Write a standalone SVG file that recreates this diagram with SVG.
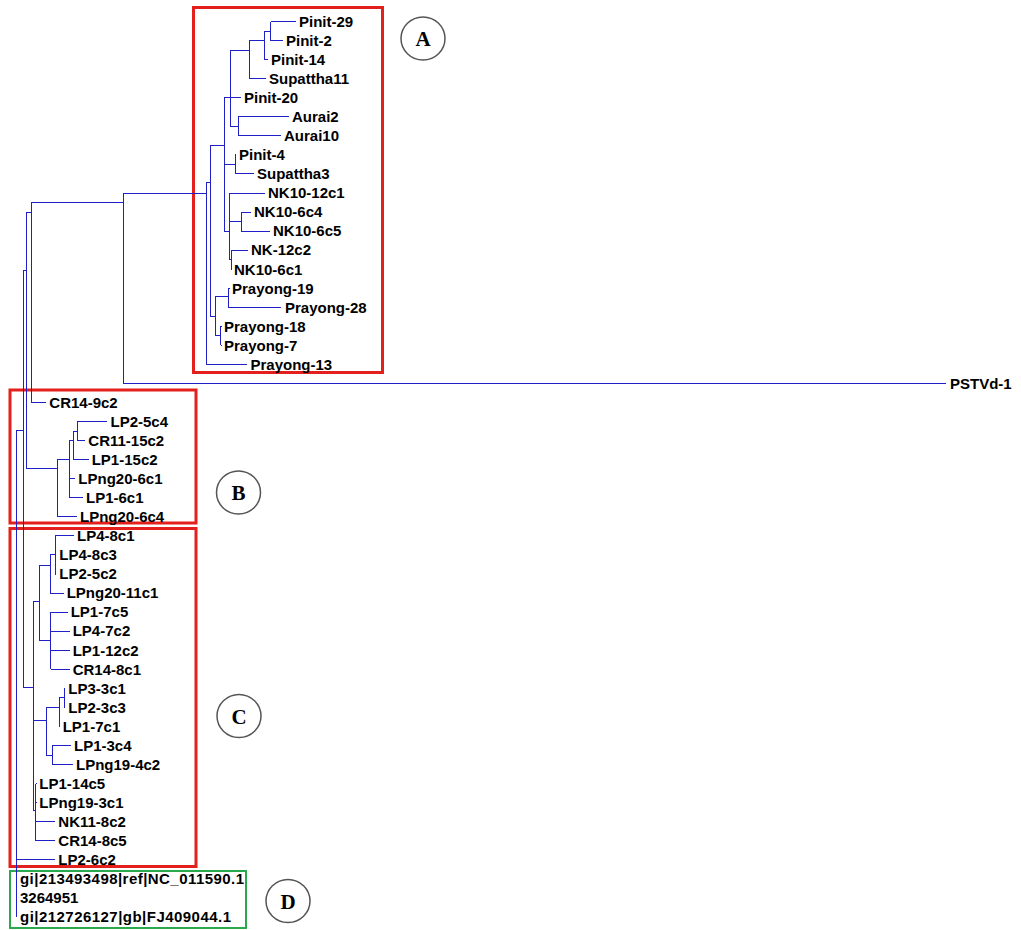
<svg xmlns="http://www.w3.org/2000/svg" width="1021" height="930" viewBox="0 0 1021 930">
<style>
.t{font-family:"Liberation Sans",Arial,sans-serif;font-weight:bold;font-size:15px;fill:#000}
.e{fill:none;stroke:#2020c8;stroke-width:1;shape-rendering:crispEdges}
.rb{fill:none;stroke:#e3201c;stroke-width:3}
.gb{fill:none;stroke:#2aa84e;stroke-width:2}
.c{fill:#fff;stroke:#555;stroke-width:1.5}
.cl{font-family:"Liberation Serif","Times New Roman",serif;font-weight:bold;font-size:21px;fill:#000;text-anchor:middle}
</style>
<rect width="1021" height="930" fill="#fff"/>
<g id="boxes">
<rect id="boxA" class="rb" x="193.5" y="7.5" width="189" height="365"/>
<rect id="boxB" class="rb" x="10" y="390" width="186" height="133"/>
<rect id="boxC" class="rb" x="10" y="528.5" width="186" height="338"/>
<rect id="boxD" class="gb" x="10" y="871" width="236" height="57"/>
</g>
<g id="connectors" class="e">
<path d="M16.7,430V917M16.7,430H23.3M16.7,859.7H55M23.3,270V687.3M23.3,270H26M26,212.3V468.3M26,212.3H31.3M31.3,202.3V402.5M31.3,202.3H123.3M31.3,402.5H46M123.3,193.3V383.5M123.3,383.5H946M123.3,193.3H206"/>
<path d="M206,182.7V364.4M206,364.4H247M206,182.7H210M210,145V316.7M210,145H224.3M210,316.7H215M215,296.7V335M215,296.7H228.3M228.3,288.2V307.3M228.3,288.2H229.5M228.3,307.3H281M215,335H220.7M220.7,326.3V345.4M220.7,326.3H221.7M220.7,345.4H221.7"/>
<path d="M224.3,97.7V231.7M224.3,97.7H241M230,50V126.8M230,50H249.3M230,126.8H238.3M238.3,116.8V135.8M238.3,116.8H288.5M238.3,135.8H280.5M249.3,40.6V78.7M249.3,78.7H265.5M249.3,40.6H264M264,31.5V59.6M264,59.6H268M264,31.5H270.7M270.7,21.5V40.6M270.7,21.5H296M270.7,40.6H283"/>
<path d="M224.3,164H235M235,154.9V173.9M235,154.9H236.2M235,173.9H253.5M224.3,231.7H229.3M229.3,193V259M229.3,193H264.5M229.3,221.7H241M241,212V231.1M241,212H251M241,231.1H270M229.3,259H231M231,250.1V269.2M231,250.1H248M231,269.2H232"/>
<path d="M26,468.3H57.3M57.3,459.7V516.8M57.3,516.8H77M57.3,459.7H69.3M69.3,440.6V497.8M69.3,478.7H75M69.3,497.8H83M69.3,440.6H73.3M73.3,431V459.7M73.3,459.7H88.5M73.3,431H77.3M77.3,421.6V440.6M77.3,421.6H107M77.3,440.6H85"/>
<path d="M23.3,687.3H33.3M33.3,601.7V810M33.3,601.7H39.3M39.3,565V640.6M39.3,565H50M50,554.9V593M50,593H63.5M50,554.9H55M55,535.9V574M55,535.9H73.5M55,554.9H56.2M55,574H56.2M39.3,640.6H50.7M50.7,612.1V669.2M50.7,612.1H67.5M50.7,631.1H69.5M50.7,650.2H69.5M50.7,669.2H69.5"/>
<path d="M33.3,720H46M46,707.3V755M46,707.3H59.3M59.3,697.8V726.4M59.3,726.4H60.2M59.3,697.8H64M64,688.3V707.3M64,688.3H65.2M64,707.3H65.2M46,755H52.3M52.3,745.4V764.5M52.3,745.4H71M52.3,764.5H73M33.3,810H35M35,793V840.7M35,821.6H55M35,840.7H55M35,793H35.8M35.8,783.5V802.6M35.8,783.5H36.5M35.8,802.6H36.5"/>
</g>
<g id="leaves">
<g id="n-pinit29"><text class="t" x="299" y="26.8">Pinit-29</text></g>
<g id="n-pinit2"><text class="t" x="286" y="45.9">Pinit-2</text></g>
<g id="n-pinit14"><text class="t" x="271" y="64.9">Pinit-14</text></g>
<g id="n-supattha11"><text class="t" x="269" y="84">Supattha11</text></g>
<g id="n-pinit20"><text class="t" x="244" y="103">Pinit-20</text></g>
<g id="n-aurai2"><text class="t" x="292" y="122.1">Aurai2</text></g>
<g id="n-aurai10"><text class="t" x="284" y="141.1">Aurai10</text></g>
<g id="n-pinit4"><text class="t" x="239" y="160.2">Pinit-4</text></g>
<g id="n-supattha3"><text class="t" x="257" y="179.2">Supattha3</text></g>
<g id="n-nk10-12c1"><text class="t" x="268" y="198.3">NK10-12c1</text></g>
<g id="n-nk10-6c4"><text class="t" x="254" y="217.3">NK10-6c4</text></g>
<g id="n-nk10-6c5"><text class="t" x="273" y="236.4">NK10-6c5</text></g>
<g id="n-nk-12c2"><text class="t" x="251" y="255.4">NK-12c2</text></g>
<g id="n-nk10-6c1"><text class="t" x="234" y="274.5">NK10-6c1</text></g>
<g id="n-prayong19"><text class="t" x="232" y="293.5">Prayong-19</text></g>
<g id="n-prayong28"><text class="t" x="285" y="312.6">Prayong-28</text></g>
<g id="n-prayong18"><text class="t" x="224" y="331.6">Prayong-18</text></g>
<g id="n-prayong7"><text class="t" x="224" y="350.7">Prayong-7</text></g>
<g id="n-prayong13"><text class="t" x="250.5" y="369.7">Prayong-13</text></g>
<g id="n-pstvd1"><text class="t" x="950" y="388.8">PSTVd-1</text></g>
<g id="n-cr14-9c2"><text class="t" x="49.3" y="407.8">CR14-9c2</text></g>
<g id="n-lp2-5c4"><text class="t" x="110.5" y="426.9">LP2-5c4</text></g>
<g id="n-cr11-15c2"><text class="t" x="88.3" y="445.9">CR11-15c2</text></g>
<g id="n-lp1-15c2"><text class="t" x="91.7" y="465">LP1-15c2</text></g>
<g id="n-lpng20-6c1"><text class="t" x="78.3" y="484">LPng20-6c1</text></g>
<g id="n-lp1-6c1"><text class="t" x="86" y="503.1">LP1-6c1</text></g>
<g id="n-lpng20-6c4"><text class="t" x="80" y="522.1">LPng20-6c4</text></g>
<g id="n-lp4-8c1"><text class="t" x="77" y="541.2">LP4-8c1</text></g>
<g id="n-lp4-8c3"><text class="t" x="59.3" y="560.2">LP4-8c3</text></g>
<g id="n-lp2-5c2"><text class="t" x="59.3" y="579.3">LP2-5c2</text></g>
<g id="n-lpng20-11c1"><text class="t" x="66.7" y="598.3">LPng20-11c1</text></g>
<g id="n-lp1-7c5"><text class="t" x="70.7" y="617.4">LP1-7c5</text></g>
<g id="n-lp4-7c2"><text class="t" x="72.7" y="636.4">LP4-7c2</text></g>
<g id="n-lp1-12c2"><text class="t" x="72.7" y="655.5">LP1-12c2</text></g>
<g id="n-cr14-8c1"><text class="t" x="72.7" y="674.5">CR14-8c1</text></g>
<g id="n-lp3-3c1"><text class="t" x="68.3" y="693.6">LP3-3c1</text></g>
<g id="n-lp2-3c3"><text class="t" x="68.3" y="712.6">LP2-3c3</text></g>
<g id="n-lp1-7c1"><text class="t" x="62.7" y="731.7">LP1-7c1</text></g>
<g id="n-lp1-3c4"><text class="t" x="74" y="750.7">LP1-3c4</text></g>
<g id="n-lpng19-4c2"><text class="t" x="76" y="769.8">LPng19-4c2</text></g>
<g id="n-lp1-14c5"><text class="t" x="39.3" y="788.8">LP1-14c5</text></g>
<g id="n-lpng19-3c1"><text class="t" x="39.3" y="807.9">LPng19-3c1</text></g>
<g id="n-nk11-8c2"><text class="t" x="58.3" y="826.9">NK11-8c2</text></g>
<g id="n-cr14-8c5"><text class="t" x="58.3" y="846">CR14-8c5</text></g>
<g id="n-lp2-6c2"><text class="t" x="58.3" y="865">LP2-6c2</text></g>
<g id="n-gi213493498"><text class="t" x="20" y="884.1" textLength="224" lengthAdjust="spacing">gi|213493498|ref|NC_011590.1</text></g>
<g id="n-3264951"><text class="t" x="20" y="903.1">3264951</text></g>
<g id="n-gi212726127"><text class="t" x="20" y="922.2" textLength="211" lengthAdjust="spacing">gi|212726127|gb|FJ409044.1</text></g>
</g>
<g id="labelA"><ellipse class="c" cx="423" cy="38.5" rx="22" ry="21.5"/><text class="cl" x="423" y="46">A</text></g>
<g id="labelB"><ellipse class="c" cx="238.5" cy="492.5" rx="22" ry="21.5"/><text class="cl" x="238.5" y="500">B</text></g>
<g id="labelC"><ellipse class="c" cx="239" cy="716" rx="22" ry="21.5"/><text class="cl" x="239" y="723.5">C</text></g>
<g id="labelD"><ellipse class="c" cx="288" cy="901" rx="22" ry="21.5"/><text class="cl" x="288" y="908.5">D</text></g>
</svg>
